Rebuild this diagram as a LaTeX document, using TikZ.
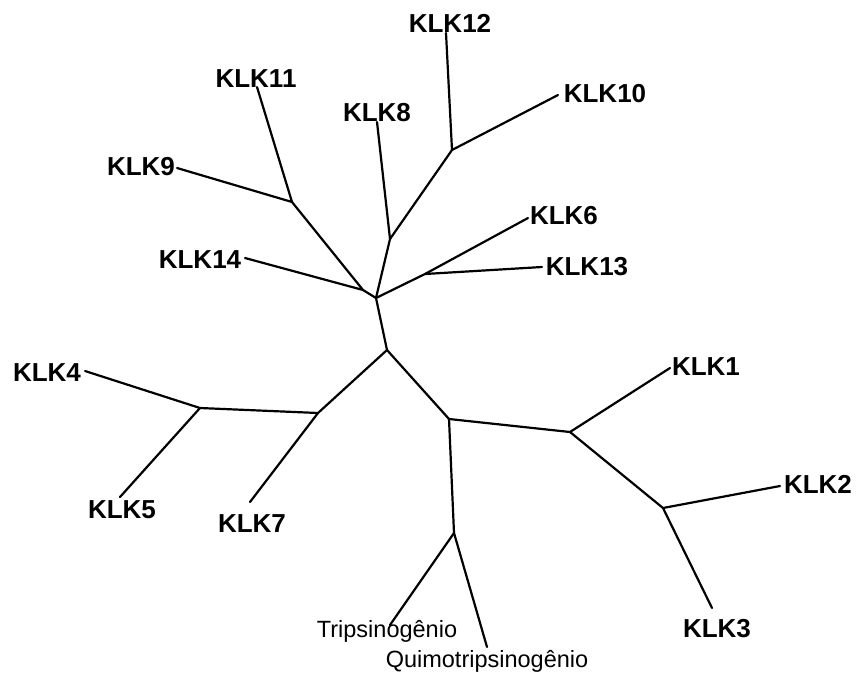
\documentclass[tikz,border=0pt]{standalone}
\usepackage{fontspec}
\setmainfont{Liberation Sans}
\begin{document}
\begin{tikzpicture}[x=1pt,y=-1pt,
  branch/.style={line width=2.2pt,line cap=round,line join=round},
  klk/.style={inner sep=0pt,anchor=base,font=\fontsize{26}{30}\selectfont\bfseries},
  zymo/.style={inner sep=0pt,anchor=base,font=\fontsize{23.5}{28}\selectfont}]
\useasboundingbox (0,0) rectangle (856,672);
% inner nodes of the tree
\coordinate (j12) at (452,150);
\coordinate (j8) at (390,239);
\coordinate (j911) at (292,202);
\coordinate (j14) at (363,290);
\coordinate (jtop) at (376,298);
\coordinate (j613) at (425,274);
\coordinate (jmid) at (387,350);
\coordinate (j7) at (318,413);
\coordinate (j45) at (200,408);
\coordinate (jlow) at (449,419);
\coordinate (j1) at (570,432);
\coordinate (j23) at (663,508);
\coordinate (jtr) at (454,533);
% branch tips
\coordinate (t12) at (446,33);
\coordinate (t10) at (558,95);
\coordinate (t8) at (377,122);
\coordinate (t11) at (257,87);
\coordinate (t9) at (177,168);
\coordinate (t14) at (245,258);
\coordinate (t6) at (528,218);
\coordinate (t13) at (542,267);
\coordinate (t4) at (85,371);
\coordinate (t5) at (120,497);
\coordinate (t7) at (250,502);
\coordinate (t1) at (670,368);
\coordinate (t2) at (780,486);
\coordinate (t3) at (712,608);
\coordinate (ttr) at (390,625);
\coordinate (tqu) at (487,647);
% leaf labels
\node[klk] (n12) at (450,32) {KLK12};
\node[klk] (n10) at (605,102) {KLK10};
\node[klk] (n8) at (377,121) {KLK8};
\node[klk] (n11) at (256,87) {KLK11};
\node[klk] (n9) at (141,175) {KLK9};
\node[klk] (n14) at (200,268) {KLK14};
\node[klk] (n6) at (564,224) {KLK6};
\node[klk] (n13) at (587,275) {KLK13};
\node[klk] (n4) at (47,381) {KLK4};
\node[klk] (n5) at (122,518) {KLK5};
\node[klk] (n7) at (252,532) {KLK7};
\node[klk] (n1) at (706,375) {KLK1};
\node[klk] (n2) at (818,493) {KLK2};
\node[klk] (n3) at (717,637) {KLK3};
\node[zymo] (ntr) at (387,637) {Tripsinogênio};
\node[zymo] (nqu) at (487,667) {Quimotripsinogênio};
% branches
\draw[branch] (t12) -- (j12) -- (t10);
\draw[branch] (j12) -- (j8) -- (t8);
\draw[branch] (j8) -- (jtop);
\draw[branch] (t11) -- (j911) -- (t9);
\draw[branch] (j911) -- (j14) -- (t14);
\draw[branch] (j14) -- (jtop);
\draw[branch] (jtop) -- (j613) -- (t6);
\draw[branch] (j613) -- (t13);
\draw[branch] (jtop) -- (jmid);
\draw[branch] (jmid) -- (j7) -- (t7);
\draw[branch] (j7) -- (j45) -- (t4);
\draw[branch] (j45) -- (t5);
\draw[branch] (jmid) -- (jlow) -- (j1) -- (t1);
\draw[branch] (j1) -- (j23) -- (t2);
\draw[branch] (j23) -- (t3);
\draw[branch] (jlow) -- (jtr) -- (ttr);
\draw[branch] (jtr) -- (tqu);
\end{tikzpicture}
\end{document}
